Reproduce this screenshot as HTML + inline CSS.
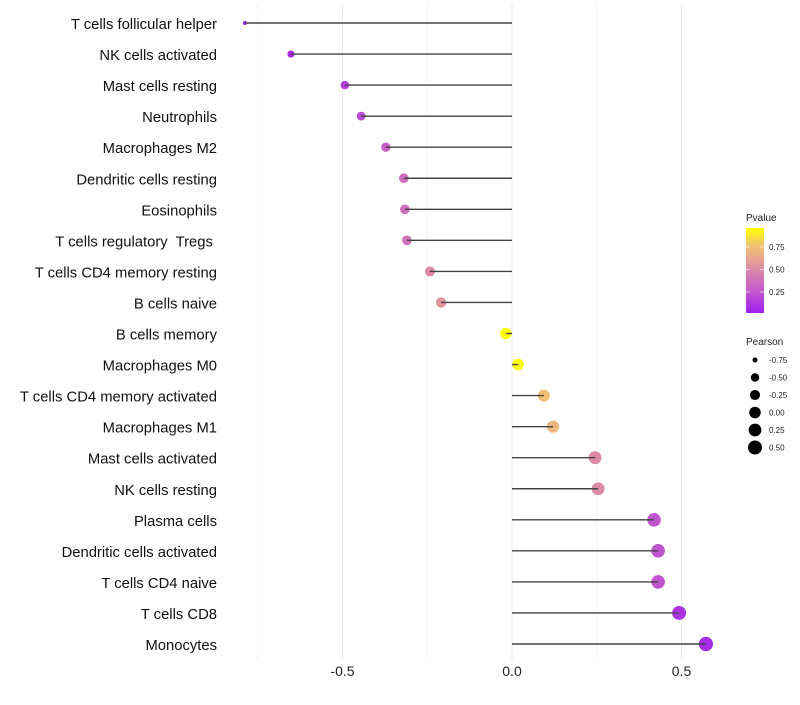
<!DOCTYPE html>
<html><head><meta charset="utf-8">
<style>
body{margin:0;background:#fff;font-family:"Liberation Sans",sans-serif;}
svg text{font-family:"Liberation Sans",sans-serif;white-space:pre;}
</style></head>
<body>
<svg id="chart" width="800" height="700">
<defs>
<linearGradient id="pgrad" x1="0" y1="1" x2="0" y2="0">
<stop offset="0" stop-color="#A020F0"/>
<stop offset="0.3" stop-color="#C860C8"/>
<stop offset="0.6" stop-color="#E49C98"/>
<stop offset="0.8" stop-color="#F2C470"/>
<stop offset="1" stop-color="#FFFF00"/>
</linearGradient>
</defs>
<g id="grid"></g><g id="marks"></g><g id="labels"></g>
<g>
<text x="746" y="221" font-size="10" fill="#222">Pvalue</text>
<rect x="746" y="228" width="18" height="85" fill="url(#pgrad)"/>
<g id="cbticks"></g>
<text x="746" y="345" font-size="10" fill="#222">Pearson</text>
<g id="sizeleg"></g>
</g>
</svg>
<script>
const cells=["T cells follicular helper","NK cells activated","Mast cells resting","Neutrophils","Macrophages M2","Dendritic cells resting","Eosinophils","T cells regulatory  Tregs ","T cells CD4 memory resting","B cells naive","B cells memory","Macrophages M0","T cells CD4 memory activated","Macrophages M1","Mast cells activated","NK cells resting","Plasma cells","Dendritic cells activated","T cells CD4 naive","T cells CD8","Monocytes"];
const pearson=[-0.788,-0.652,-0.493,-0.445,-0.372,-0.319,-0.316,-0.31,-0.242,-0.209,-0.018,0.018,0.094,0.121,0.245,0.254,0.419,0.431,0.431,0.493,0.572];
const pvalue=[0.02,0.05,0.15,0.2,0.3,0.36,0.37,0.38,0.5,0.55,0.96,0.95,0.75,0.7,0.5,0.5,0.25,0.25,0.25,0.1,0.06];
const xTicks=[-0.5,0,0.5];
const xTickLabels=["-0.5","0.0","0.5"];
const pTicks=[0.25,0.5,0.75];
const sizeLegend=[-0.75,-0.5,-0.25,0,0.25,0.5];
const sizeLegendLabels=["-0.75","-0.50","-0.25","0.00","0.25","0.50"];

const NS="http://www.w3.org/2000/svg";
const X=v=>512+v*339;
const Y=i=>23+i*31.05;
const pmin=0.017,pmax=0.96;
const pY=p=>313-(p-pmin)/(pmax-pmin)*85;
function R(v){if(v<=-0.788)return 2;
if(v<-0.652)return 2+(v+0.788)/0.136*1.6;
return Math.sqrt(13+(v+0.652)/1.224*38);}
const stops=[[0,[160,32,240]],[0.3,[200,96,200]],[0.6,[228,156,152]],[0.8,[242,196,112]],[1,[255,255,0]]];
function col(p){let t=(p-pmin)/(pmax-pmin);t=Math.max(0,Math.min(1,t));
for(let k=1;k<stops.length;k++){if(t<=stops[k][0]){const a=stops[k-1],b=stops[k];const f=(t-a[0])/(b[0]-a[0]);
return "rgb("+a[1].map((c,j)=>Math.round(c+(b[1][j]-c)*f)).join(",")+")";}}return "rgb(255,255,0)";}
function mk(tag,attrs,parent){const e=document.createElementNS(NS,tag);for(const k in attrs)e.setAttribute(k,attrs[k]);parent.appendChild(e);return e;}
const grid=document.getElementById('grid'),marks=document.getElementById('marks'),labels=document.getElementById('labels');
[-0.75,-0.5,-0.25,0,0.25,0.5].forEach(v=>{const g=mk('line',{x1:X(v),x2:X(v),y1:5,y2:660,stroke:'#ebebeb','stroke-width':Math.abs(v*4)%2<0.01?1:0.6},grid);

});
xTicks.forEach((v,i)=>{const t=mk('text',{x:X(v),y:676,'font-size':14,'text-anchor':'middle',fill:'#222'},labels);t.textContent=xTickLabels[i];

});
cells.forEach((c,i)=>{
const t=mk('text',{x:217,y:Y(i)+6,'font-size':14.8,'text-anchor':'end',fill:'#111'},labels);t.textContent=c;


const p=mk('circle',{cx:X(pearson[i]),cy:Y(i),r:R(pearson[i]),fill:col(pvalue[i])},marks);


const l=mk('line',{x1:X(0),x2:X(pearson[i]),y1:Y(i),y2:Y(i),stroke:'#444','stroke-width':1.4},marks);


});
const cb=document.getElementById('cbticks');
pTicks.forEach(p=>{mk('line',{x1:746,x2:750,y1:pY(p),y2:pY(p),stroke:'#fff','stroke-opacity':0.6},cb);mk('line',{x1:760,x2:764,y1:pY(p),y2:pY(p),stroke:'#fff','stroke-opacity':0.6},cb);
const t=mk('text',{x:769,y:pY(p)+3,'font-size':8,fill:'#222'},cb);t.textContent=p.toFixed(2);

});
const sl=document.getElementById('sizeleg');
sizeLegend.forEach((v,i)=>{const y=360+i*17.5;
const c=mk('circle',{cx:755,cy:y,r:Math.max(2.5,R(v)),fill:'#000'},sl);


const t=mk('text',{x:769,y:y+3,'font-size':8,fill:'#222'},sl);t.textContent=sizeLegendLabels[i];

});
</script>
</body></html>
